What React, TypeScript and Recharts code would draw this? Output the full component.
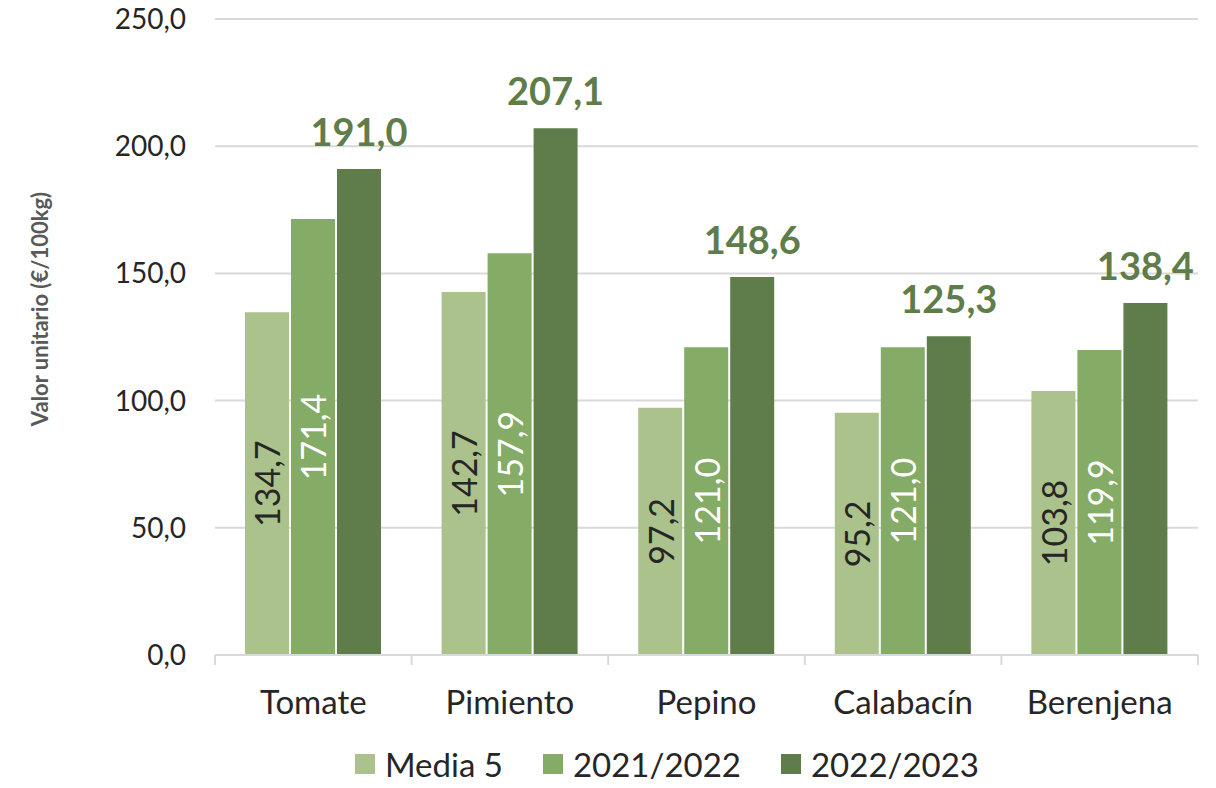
import React from "react";
import {
  BarChart,
  Bar,
  XAxis,
  YAxis,
  CartesianGrid,
  Legend,
  LabelList,
} from "recharts";

const categories = ["Tomate", "Pimiento", "Pepino", "Calabacín", "Berenjena"];
const media5 = [134.7, 142.7, 97.2, 95.2, 103.8];
const campaign2122 = [171.4, 157.9, 121.0, 121.0, 119.9];
const campaign2223 = [191.0, 207.1, 148.6, 125.3, 138.4];
const yTicks = [0, 50, 100, 150, 200, 250];

const series = [
  { key: "media5", name: "Media 5", color: "#abc28c" },
  { key: "c2122", name: "2021/2022", color: "#84ac67" },
  { key: "c2223", name: "2022/2023", color: "#5f7d4a" },
];

const data = categories.map((name, i) => ({
  name,
  media5: media5[i],
  c2122: campaign2122[i],
  c2223: campaign2223[i],
}));

const WIDTH = 1216;
const HEIGHT = 788;
const MARGIN = { top: 19, right: 18, left: 0, bottom: 0 };
const Y_AXIS_WIDTH = 215;
const FONT = "Lato, 'Noto Sans', sans-serif";

const fmt = (v: number) => v.toFixed(1).replace(".", ",");

const plotWidth = WIDTH - MARGIN.left - MARGIN.right - Y_AXIS_WIDTH;
const band = plotWidth / categories.length;

const CategoryTick = (props: any) => {
  const { x, y, payload, index } = props;
  const top = y - 8;
  return (
    <g>
      <line x1={x - band / 2} x2={x - band / 2} y1={top} y2={top + 10} stroke="#d9d9d9" strokeWidth={2} />
      {index === categories.length - 1 && (
        <line x1={x + band / 2} x2={x + band / 2} y1={top} y2={top + 10} stroke="#d9d9d9" strokeWidth={2} />
      )}
      <text x={x} y={top + 59} textAnchor="middle" fontSize={33} fill="#262626" fontFamily={FONT}>
        {payload.value}
      </text>
    </g>
  );
};

const insideLabel = (color: string) => (props: any) => {
  const { x, y, width, height, value } = props;
  const cx = x + width / 2;
  const cy = y + height / 2;
  return (
    <text
      x={cx}
      y={cy}
      transform={`rotate(-90, ${cx}, ${cy})`}
      textAnchor="middle"
      dominantBaseline="central"
      fontSize={34}
      fill={color}
      fontFamily={FONT}
    >
      {fmt(value)}
    </text>
  );
};

const AxisTitle = () => (
  <text
    x={39}
    y={309}
    transform="rotate(-90, 39, 309)"
    textAnchor="middle"
    dominantBaseline="central"
    fontSize={22}
    fontWeight={700}
    fill="#595959"
    fontFamily={FONT}
  >
    Valor unitario (€/100kg)
  </text>
);

const LegendContent = () => (
  <div
    style={{
      display: "flex",
      justifyContent: "center",
      alignItems: "center",
      fontFamily: FONT,
      fontSize: 33,
      color: "#262626",
      gap: 40,
      paddingLeft: 118,
    }}
  >
    {series.map((s) => (
      <div key={s.key} style={{ display: "flex", alignItems: "center" }}>
        <span style={{ width: 20, height: 20, background: s.color, marginRight: 10, display: "inline-block" }} />
        <span>{s.name}</span>
      </div>
    ))}
  </div>
);

export default function App() {
  return (
    <div style={{ position: "absolute", left: 0, top: 0, width: WIDTH, height: HEIGHT, background: "#fff" }}>
      <BarChart
        width={WIDTH}
        height={HEIGHT}
        data={data}
        margin={MARGIN}
        barCategoryGap={30}
        barGap={2}
      >
        <CartesianGrid vertical={false} stroke="#d9d9d9" strokeWidth={2} />
        <XAxis
          dataKey="name"
          axisLine={{ stroke: "#d9d9d9", strokeWidth: 2 }}
          tickLine={false}
          tick={<CategoryTick />}
          height={93}
          interval={0}
        />
        <YAxis
          domain={[0, 250]}
          ticks={yTicks}
          width={Y_AXIS_WIDTH}
          axisLine={false}
          tickLine={false}
          tickMargin={23}
          tickFormatter={fmt}
          tick={{ fontSize: 28, fill: "#262626", fontFamily: FONT }}
          label={<AxisTitle />}
        />
        <Legend
          verticalAlign="bottom"
          content={<LegendContent />}
          wrapperStyle={{ left: 0, width: WIDTH, bottom: 4 }}
        />
        <Bar dataKey="media5" name="Media 5" fill={series[0].color} isAnimationActive={false}>
          <LabelList dataKey="media5" content={insideLabel("#262626")} />
        </Bar>
        <Bar dataKey="c2122" name="2021/2022" fill={series[1].color} isAnimationActive={false}>
          <LabelList dataKey="c2122" content={insideLabel("#ffffff")} />
        </Bar>
        <Bar dataKey="c2223" name="2022/2023" fill={series[2].color} isAnimationActive={false}>
          <LabelList
            dataKey="c2223"
            position="top"
            offset={23}
            formatter={(v: any) => fmt(v)}
            style={{ fontSize: 38, fontWeight: 700, fill: "#5f7d4a", fontFamily: FONT }}
          />
        </Bar>
      </BarChart>
    </div>
  );
}
